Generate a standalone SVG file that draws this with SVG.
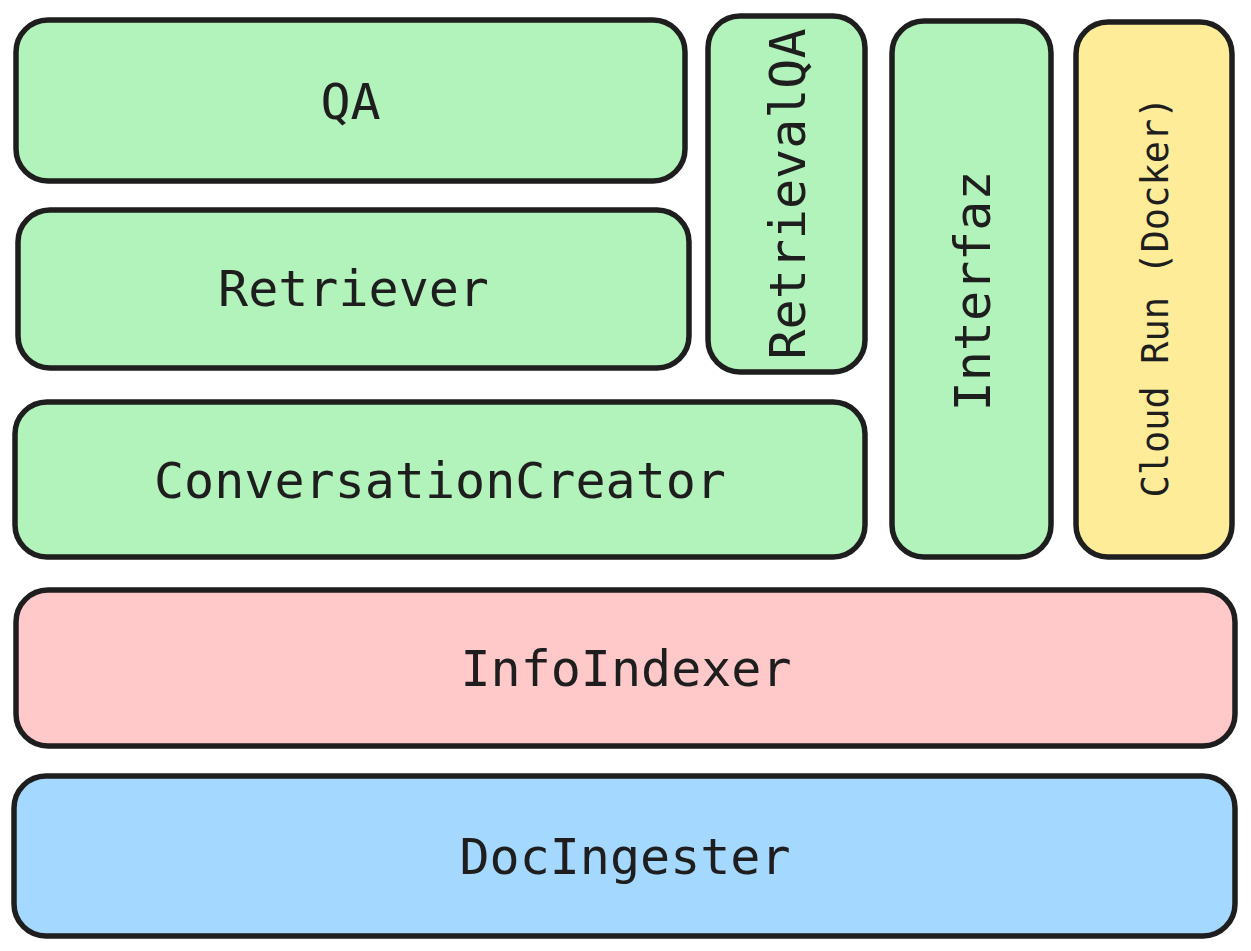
<svg xmlns="http://www.w3.org/2000/svg" width="1251" height="951" viewBox="0 0 1251 951">
<style>
.box{stroke:#1e1e1e;stroke-width:5.5;stroke-linejoin:round}
.g{fill:#b2f2bb}.y{fill:#ffec99}.p{fill:#ffc9c9}.b{fill:#a5d8ff}
.t{font-family:"DejaVu Sans Mono","Liberation Mono",monospace;font-size:50px;fill:#1e1e1e;text-anchor:middle}
.s{font-size:37px}
</style>
<rect width="1251" height="951" fill="#ffffff"/>
<g id="connectors"></g>
<g id="qa"><rect class="box g" x="16" y="20" width="669" height="161" rx="32"/><text class="t" x="350.5" y="118.5">QA</text></g>
<g id="retriever"><rect class="box g" x="18" y="210" width="671" height="158" rx="32"/><text class="t" x="353.5" y="306">Retriever</text></g>
<g id="conversationcreator"><rect class="box g" x="15" y="402" width="850" height="155" rx="32"/><text class="t" x="440" y="497.5">ConversationCreator</text></g>
<g id="retrievalqa"><rect class="box g" x="708" y="16" width="157" height="356" rx="32"/><text class="t" transform="translate(804.5 194) rotate(-90)" x="0" y="0">RetrievalQA</text></g>
<g id="interfaz"><rect class="box g" x="892" y="21" width="159" height="536" rx="32"/><text class="t" transform="translate(989.5 291) rotate(-90)" x="0" y="0">Interfaz</text></g>
<g id="cloudrun"><rect class="box y" x="1076" y="22" width="156" height="535" rx="32"/><text class="t s" transform="translate(1168 297) rotate(-90)" x="0" y="0">Cloud Run (Docker)</text></g>
<g id="infoindexer"><rect class="box p" x="16" y="590" width="1219" height="156" rx="32"/><text class="t" x="626" y="686">InfoIndexer</text></g>
<g id="docingester"><rect class="box b" x="14" y="776" width="1221" height="160" rx="32"/><text class="t" x="625" y="874">DocIngester</text></g>
</svg>
